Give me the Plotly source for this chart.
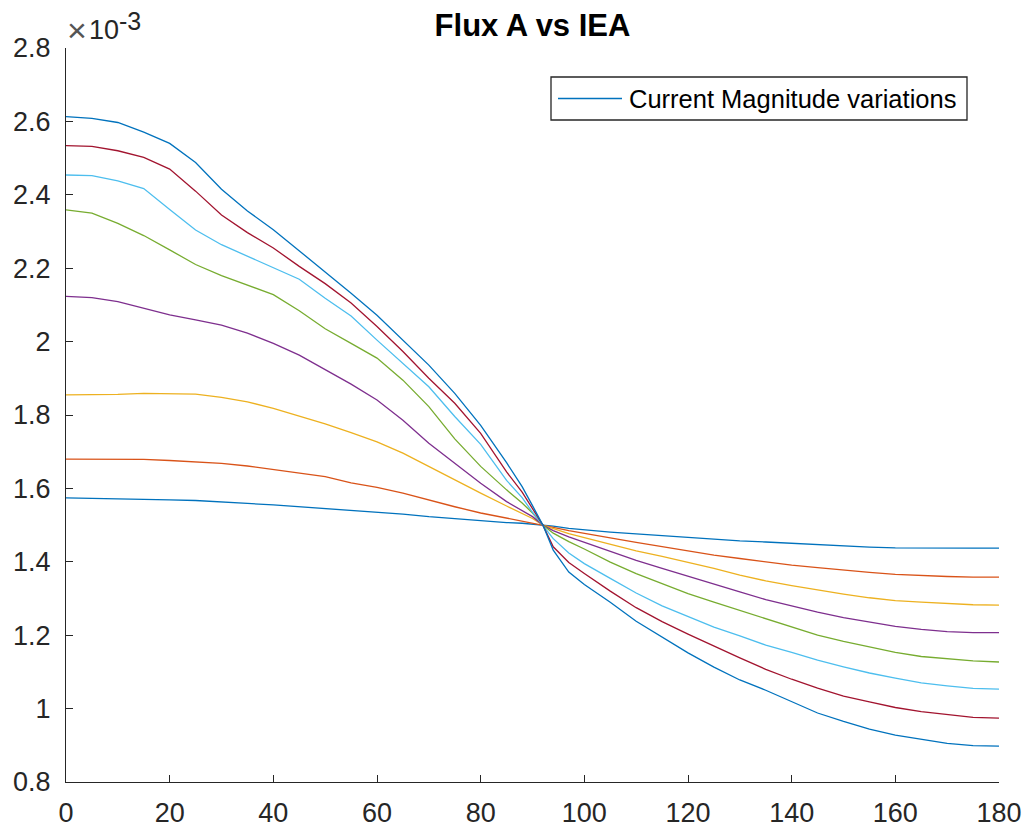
import plotly.graph_objects as go

# Rotor angle (degrees)
angle = [0, 5, 10, 15, 20, 25, 30, 35, 40, 45, 50, 55, 60, 65, 70, 75, 80, 85, 88, 90, 92, 94, 97,
         100, 105, 110, 115, 120, 125, 130, 135, 140, 145, 150, 155, 160, 165, 170, 175, 180]

# Flux values in units of 1e-3
flux_1 = [1.574, 1.573, 1.573, 1.572, 1.569, 1.567, 1.564, 1.559, 1.555, 1.550, 1.546, 1.541, 1.537, 1.530,
          1.523, 1.517, 1.511, 1.507, 1.505, 1.503, 1.500, 1.497, 1.491,
          1.487, 1.481, 1.476, 1.471, 1.466, 1.461, 1.457, 1.454, 1.450, 1.447, 1.442, 1.440, 1.438,
          1.437, 1.437, 1.437, 1.437]
flux_2 = [1.680, 1.680, 1.680, 1.679, 1.676, 1.673, 1.668, 1.661, 1.652, 1.643, 1.632, 1.615, 1.603, 1.587,
          1.568, 1.550, 1.533, 1.519, 1.512, 1.507, 1.500, 1.494, 1.485,
          1.477, 1.465, 1.453, 1.441, 1.429, 1.418, 1.409, 1.399, 1.391, 1.384, 1.377, 1.371, 1.366,
          1.362, 1.360, 1.358, 1.358]
flux_3 = [1.855, 1.855, 1.856, 1.859, 1.859, 1.857, 1.848, 1.836, 1.818, 1.797, 1.776, 1.752, 1.727, 1.696,
          1.659, 1.623, 1.587, 1.552, 1.532, 1.518, 1.500, 1.490, 1.477,
          1.466, 1.447, 1.430, 1.415, 1.399, 1.382, 1.364, 1.348, 1.335, 1.323, 1.312, 1.302, 1.294,
          1.290, 1.286, 1.283, 1.282]
flux_4 = [2.123, 2.120, 2.109, 2.091, 2.073, 2.059, 2.045, 2.023, 1.995, 1.963, 1.923, 1.884, 1.841, 1.786,
          1.723, 1.668, 1.614, 1.564, 1.540, 1.523, 1.500, 1.485, 1.468,
          1.453, 1.428, 1.404, 1.382, 1.360, 1.338, 1.318, 1.297, 1.279, 1.263, 1.248, 1.236, 1.224,
          1.216, 1.210, 1.207, 1.207]
flux_5 = [2.359, 2.350, 2.322, 2.289, 2.250, 2.210, 2.180, 2.155, 2.128, 2.084, 2.035, 1.995, 1.955, 1.895,
          1.823, 1.735, 1.660, 1.596, 1.560, 1.533, 1.500, 1.478, 1.455,
          1.435, 1.399, 1.368, 1.340, 1.313, 1.290, 1.267, 1.244, 1.221, 1.200, 1.183, 1.167, 1.153,
          1.142, 1.135, 1.130, 1.127]
flux_6 = [2.454, 2.452, 2.438, 2.417, 2.360, 2.304, 2.264, 2.233, 2.200, 2.170, 2.118, 2.070, 2.004, 1.941,
          1.877, 1.796, 1.720, 1.622, 1.575, 1.535, 1.500, 1.463, 1.424,
          1.395, 1.355, 1.315, 1.280, 1.250, 1.222, 1.198, 1.173, 1.153, 1.132, 1.114, 1.097, 1.083,
          1.070, 1.062, 1.055, 1.053]
flux_7 = [2.534, 2.532, 2.520, 2.502, 2.470, 2.410, 2.345, 2.297, 2.255, 2.205, 2.158, 2.105, 2.041, 1.973,
          1.900, 1.832, 1.750, 1.645, 1.590, 1.545, 1.500, 1.441, 1.398,
          1.368, 1.320, 1.275, 1.237, 1.203, 1.170, 1.138, 1.107, 1.080, 1.056, 1.034, 1.018, 1.003,
          0.992, 0.983, 0.976, 0.974]
flux_8 = [2.613, 2.608, 2.597, 2.571, 2.540, 2.488, 2.415, 2.356, 2.305, 2.248, 2.190, 2.132, 2.072, 2.004,
          1.936, 1.859, 1.772, 1.670, 1.605, 1.553, 1.500, 1.432, 1.372,
          1.338, 1.290, 1.238, 1.195, 1.152, 1.113, 1.078, 1.050, 1.019, 0.988, 0.965, 0.944, 0.928,
          0.916, 0.905, 0.899, 0.898]

series = [flux_1, flux_2, flux_3, flux_4, flux_5, flux_6, flux_7, flux_8]
colors = ["#0072BD", "#D95319", "#EDB120", "#7E2F8E", "#77AC30", "#4DBEEE", "#A2142F", "#0072BD"]

x_ticks = [0, 20, 40, 60, 80, 100, 120, 140, 160, 180]
y_ticks = [0.8, 1.0, 1.2, 1.4, 1.6, 1.8, 2.0, 2.2, 2.4, 2.6, 2.8]
y_tick_text = ["0.8", "1", "1.2", "1.4", "1.6", "1.8", "2", "2.2", "2.4", "2.6", "2.8"]

title_text = "Flux A vs IEA"
legend_text = "Current Magnitude variations"

FONT = "Liberation Sans, Arial, Helvetica, sans-serif"
AX = "#262626"
TICK_SIZE = 27

fig = go.Figure()
for s, c in zip(series, colors):
    fig.add_trace(go.Scatter(x=angle, y=s, mode="lines", line=dict(color=c, width=1.3),
                             showlegend=False, hoverinfo="skip"))

fig.update_layout(
    width=1027, height=830,
    margin=dict(l=66, r=28, t=48, b=48, autoexpand=False),
    paper_bgcolor="white", plot_bgcolor="white",
    font=dict(family=FONT, color=AX, size=TICK_SIZE),
    title=dict(text="<b>" + title_text + "</b>", x=0.5, xref="paper", xanchor="center",
               y=1 - 25 / 830, yref="container", yanchor="middle",
               font=dict(family=FONT, size=31, color="black")),
    showlegend=False,
)
fig.update_xaxes(range=[0, 180], tickvals=x_ticks, ticks="inside", ticklen=7, tickwidth=1.3,
                 tickcolor=AX, showline=True, linecolor=AX, linewidth=1.3, showgrid=False,
                 zeroline=False, ticklabelstandoff=6,
                 tickfont=dict(size=TICK_SIZE, color=AX, family=FONT))
fig.update_yaxes(range=[0.8, 2.8], tickvals=y_ticks, ticktext=y_tick_text, ticks="inside", ticklen=7,
                 tickwidth=1.3, tickcolor=AX, showline=True, linecolor=AX, linewidth=1.3,
                 showgrid=False, zeroline=False, ticklabelstandoff=9,
                 tickfont=dict(size=TICK_SIZE, color=AX, family=FONT))

# exponent label (x10^-3), anchored at glyph centres
fig.add_annotation(text="×", xref="paper", yref="paper", x=(65 - 66) / 933, y=(782 - 30) / 734,
                   xanchor="left", yanchor="middle", showarrow=False,
                   font=dict(family=FONT, size=34, color="#555555"))
fig.add_annotation(text="10", xref="paper", yref="paper", x=(87 - 66) / 933, y=(782 - 30) / 734,
                   xanchor="left", yanchor="middle", showarrow=False,
                   font=dict(family=FONT, size=TICK_SIZE, color=AX))
fig.add_annotation(text="-3", xref="paper", yref="paper", x=(117 - 66) / 933, y=(782 - 21) / 734,
                   xanchor="left", yanchor="middle", showarrow=False,
                   font=dict(family=FONT, size=25, color=AX))

# legend box
lx0, lx1 = (551 - 66) / 933, (967 - 66) / 933
ly0, ly1 = (782 - 120) / 734, (782 - 77) / 734
lyc = (782 - 98.5) / 734
fig.add_shape(type="rect", xref="paper", yref="paper", x0=lx0, x1=lx1, y0=ly0, y1=ly1,
              line=dict(color=AX, width=1.3), fillcolor="white")
fig.add_shape(type="line", xref="paper", yref="paper", x0=(558 - 66) / 933, x1=(622 - 66) / 933,
              y0=lyc, y1=lyc, line=dict(color=colors[0], width=1.3))
fig.add_annotation(text=legend_text, xref="paper", yref="paper", x=(627 - 66) / 933, y=lyc,
                   xanchor="left", yanchor="middle", showarrow=False,
                   font=dict(family=FONT, size=25.5, color="black"))

fig.write_html("out.html")
